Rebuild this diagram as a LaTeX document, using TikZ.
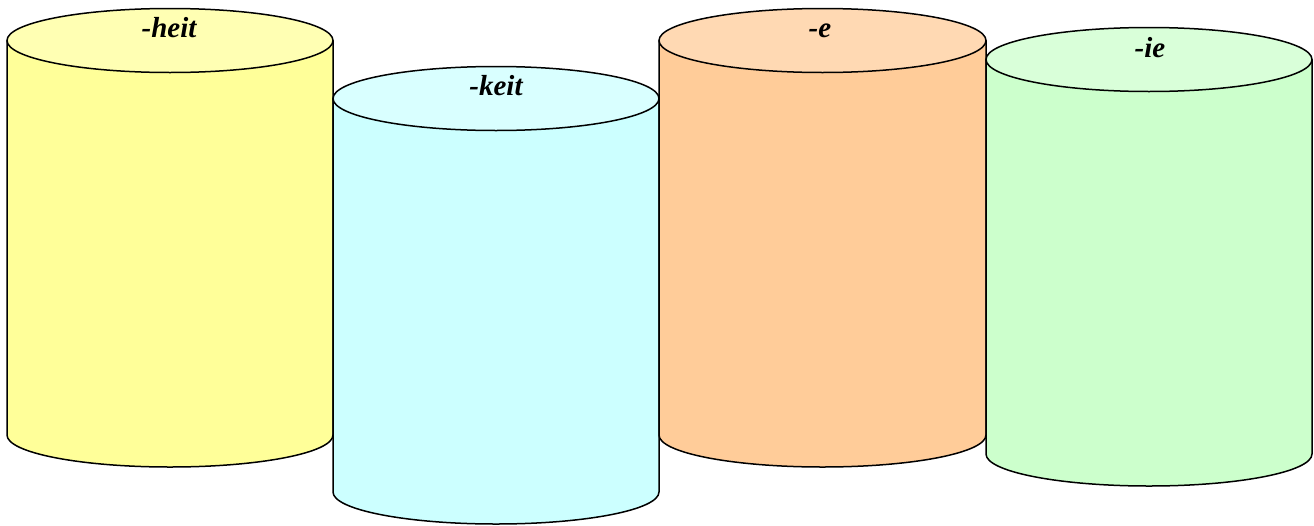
\documentclass[tikz,border=0pt]{standalone}
\usepackage{fontspec}
\setmainfont{Liberation Serif}
\definecolor{ybody}{HTML}{FFFF99}
\definecolor{ytop}{HTML}{FFFFB3}
\definecolor{cbody}{HTML}{CCFFFF}
\definecolor{ctop}{HTML}{D9FFFF}
\definecolor{obody}{HTML}{FFCC99}
\definecolor{otop}{HTML}{FFD9B3}
\definecolor{gbody}{HTML}{CCFFCC}
\definecolor{gtop}{HTML}{D9FFD9}
\tikzset{
  cylline/.style={draw=black, line width=1.5pt, line join=round},
  lbl/.style={font=\bfseries\itshape\fontsize{29}{32}\selectfont, inner sep=0pt}
}
% #1 center x, #2 top center y, #3 bottom center y, #4 rx, #5 ry, #6 body, #7 top
\newcommand{\mycyl}[7]{%
  \path[cylline, fill=#6] (#1-#4,#2) -- (#1-#4,#3) arc[start angle=180, end angle=0, x radius=#4, y radius=#5] -- (#1+#4,#2) -- cycle;
  \path[cylline, fill=#7] (#1,#2) ellipse[x radius=#4, y radius=#5];
}
\begin{document}
\begin{tikzpicture}[x=1pt, y=-1pt]
\useasboundingbox (0,0) rectangle (1314,525);
\mycyl{170}{40.5}{435}{163}{32}{ybody}{ytop}
\mycyl{496}{98.5}{492}{163}{32}{cbody}{ctop}
\mycyl{822.5}{40.5}{435}{163.5}{32}{obody}{otop}
\mycyl{1149}{59.5}{454}{163}{32}{gbody}{gtop}
\node[lbl] (heit) at (169,28) {-heit};
\node[lbl] (keit) at (496,86) {-keit};
\node[lbl] (e) at (820,31) {-e};
\node[lbl] (ie) at (1150,48) {-ie};
\end{tikzpicture}
\end{document}
